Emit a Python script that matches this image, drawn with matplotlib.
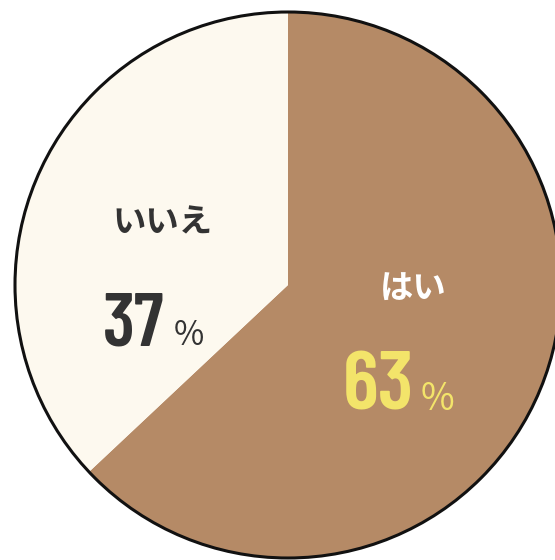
import matplotlib
matplotlib.use("Agg")
import matplotlib.pyplot as plt

labels = ["はい", "いいえ"]
values = [63, 37]
colors = ["#b58a66", "#fdf9ef"]
label_colors = ["#ffffff", "#333333"]
pct_colors = ["#f3e46a", "#333333"]

W, H = 555, 560
fig = plt.figure(figsize=(W / 100, H / 100), dpi=100)
ax = fig.add_axes([0, 0, 1, 1])
cx, cy, r = 288, H - 285, 273
ax.pie(values, colors=colors, startangle=90, counterclock=False,
       center=(cx, cy), radius=r,
       wedgeprops=dict(linewidth=0))
circ = plt.Circle((cx, cy), r, fill=False, edgecolor="#111111", linewidth=2.2)
ax.add_patch(circ)
ax.set_xlim(0, W)
ax.set_ylim(0, H)
ax.set_aspect("equal")
ax.axis("off")

jp = ["Noto Sans CJK JP", "DejaVu Sans"]
num = ["Barlow Condensed", "DejaVu Sans"]
# (label center), (number center x, baseline), (pct center x, baseline), number size
pos = {"はい": ((413, 289), (378, 410), (437, 410), 60),
       "いいえ": ((163, 223), (134, 345), (189, 345), 54)}
for lab, val, lc, pc in zip(labels, values, label_colors, pct_colors):
    (lx, ly), (nx, ny), (px, py), ns = pos[lab]
    ax.text(lx, H - ly, lab, color=lc, fontsize=24, fontweight="bold",
            family=jp, ha="center", va="center")
    ax.text(nx, H - ny, str(val), color=pc, fontsize=ns, fontweight=600,
            family=num, ha="center", va="baseline")
    ax.text(px, H - py, "%", color=pc, fontsize=ns * 0.44, fontweight=400,
            family=jp, ha="center", va="baseline")

fig.savefig("out.png", dpi=100)
